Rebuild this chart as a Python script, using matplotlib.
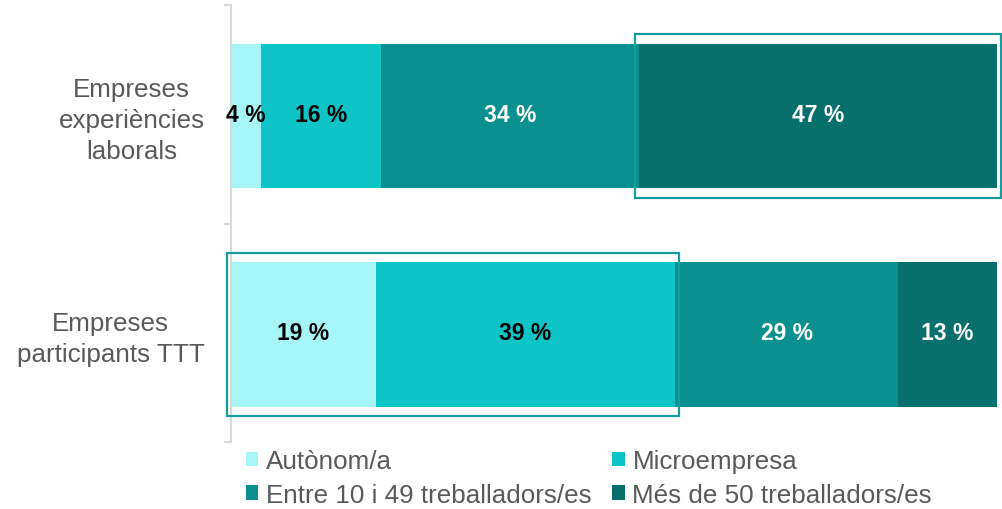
"""Stacked horizontal bars: company size of participating firms."""

import matplotlib

matplotlib.use("Agg")
import matplotlib.pyplot as plt
from matplotlib.patches import Patch, Rectangle

plt.rcParams["font.family"] = ["Liberation Sans", "DejaVu Sans"]

categories = ["Empreses\nparticipants TTT", "Empreses\nexperiències\nlaborals"]
series_names = ["Autònom/a", "Microempresa", "Entre 10 i 49 treballadors/es", "Més de 50 treballadors/es"]
values = [
    [18.9, 39.1, 29.1, 12.9],  # Empreses participants TTT
    [3.9, 15.7, 33.6, 46.8],   # Empreses experiències laborals
]
# highlighted blocks: (row, first segment, last segment)
highlights = [(1, 3, 3), (0, 0, 1)]

colors = ["#A6F6F7", "#0EC4C6", "#0A918F", "#07706C"]
label_colors = ["black", "black", "white", "white"]
text_gray = "#595959"
frame_color = "#169C9C"

fig = plt.figure(figsize=(10.02, 5.10), dpi=100)
ax = fig.add_axes([231 / 1002, 1 - 443 / 510, 766 / 1002, 437 / 510])

bar_h = 0.66
for row, row_vals in enumerate(values):
    left = 0.0
    for i, v in enumerate(row_vals):
        ax.barh(row - 0.008, v, left=left, height=bar_h, color=colors[i], edgecolor="none")
        ax.text(left + v / 2, row, f"{v:.0f} %", ha="center", va="center",
                fontsize=16.5, fontweight="bold", color=label_colors[i])
        left += v

for row, first, last in highlights:
    x0 = sum(values[row][:first])
    x1 = sum(values[row][:last + 1])
    pad_x, pad_y = 0.5, 0.045
    rect = Rectangle((x0 - pad_x, row - 0.008 - bar_h / 2 - pad_y), x1 - x0 + 2 * pad_x, bar_h + 2 * pad_y,
                     fill=False, edgecolor=frame_color, linewidth=1.6, clip_on=False, zorder=5)
    ax.add_patch(rect)

ax.set_xlim(0, 100)
ax.set_ylim(-0.5, 1.5)
ax.set_xticks([])
ax.set_yticks([0, 1])
ax.set_yticklabels(categories, fontsize=18.7, color=text_gray, multialignment="center", linespacing=1.37)
ax.tick_params(axis="y", which="major", length=0, pad=19)
ax.set_yticks([-0.5, 0.5, 1.5], minor=True)
ax.tick_params(axis="y", which="minor", length=5, width=1.5, color="#D9D9D9")
for side in ["top", "right", "bottom"]:
    ax.spines[side].set_visible(False)
ax.spines["left"].set_color("#D9D9D9")
ax.spines["left"].set_linewidth(1.5)

handles = [Patch(facecolor=c, edgecolor="none") for c in colors]
order = [0, 2, 1, 3]
leg = fig.legend([handles[i] for i in order], [series_names[i] for i in order],
                 ncol=2, loc="upper left", bbox_to_anchor=(246 / 1002, 1 - 450 / 510),
                 frameon=False, fontsize=18.7, handlelength=0.47, handleheight=0.47,
                 handletextpad=0.3, columnspacing=0.8, labelspacing=0.38, borderpad=0,
                 borderaxespad=0)
for t in leg.get_texts():
    t.set_color(text_gray)

fig.savefig("out.png", dpi=100)
